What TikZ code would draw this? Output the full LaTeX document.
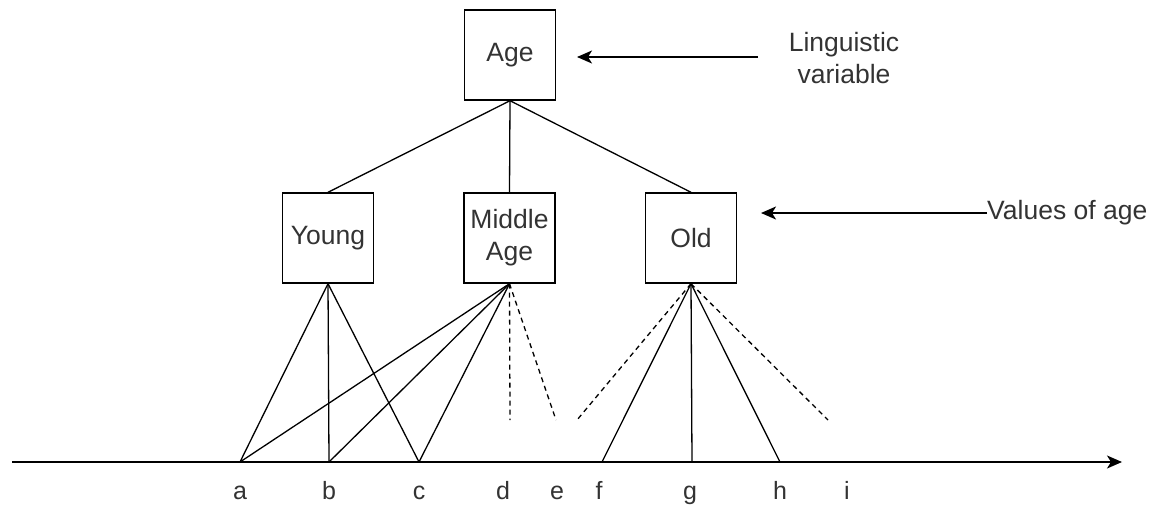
\documentclass[tikz,border=0pt]{standalone}
\usepackage{fontspec}
\setmainfont{Liberation Sans}
\usetikzlibrary{arrows.meta}
\begin{document}
\begin{tikzpicture}[x=1pt,y=-1pt,
  box/.style={draw,line width=1.4pt,minimum width=91pt,minimum height=90pt,
    inner sep=0pt,align=center,text=black!80,font=\fontsize{26.5}{32}\selectfont},
  lbl/.style={font=\fontsize{26.5}{32}\selectfont,text=black!80,align=center,inner sep=0pt},
  tick/.style={font=\fontsize{25}{28}\selectfont,text=black!80,inner sep=0pt,anchor=base},
  edge/.style={line width=1.3pt},
  dashedge/.style={line width=1.3pt,dash pattern=on 5pt off 4pt},
  ptr/.style={line width=1.5pt,-{Stealth[length=15pt,width=13pt,inset=4pt]}}
]
\useasboundingbox (0,0) rectangle (1164,504);

% boxes
\node[box] (age) at (510,55) {Age};
\node[box] (young) at (328,238) {Young};
\node[box] (middle) at (509.5,238) {Middle\\Age};
\node[box] (old) at (691,238) {Old};

% side labels with pointers
\node[lbl] (ling) at (844,58) {Linguistic\\variable};
\coordinate (lingstart) at (758,57);
\coordinate (lingend) at (577,57);
\draw[ptr] (lingstart) -- (lingend);

\node[lbl,anchor=west] (vals) at (987,213) {Values of age};
\draw[ptr] (vals.west) -- (761,213);

% tree edges
\draw[edge] (age.south) -- (young.north);
\draw[edge] (age.south) -- (middle.north);
\draw[edge] (age.south) -- (old.north);

% axis
\coordinate (axs) at (12,462);
\coordinate (axe) at (1122,462);
\draw[ptr] (axs) -- (axe);

% points on the axis
\coordinate (pa) at (240,462);
\coordinate (pb) at (329,462);
\coordinate (pc) at (419,462);
\coordinate (pf) at (602,462);
\coordinate (pg) at (692,462);
\coordinate (ph) at (780,462);

% point labels
\node[tick] (la) at (240,499) {a};
\node[tick] (lb) at (329,499) {b};
\node[tick] (lc) at (419,499) {c};
\node[tick] (ld) at (503,499) {d};
\node[tick] (le) at (557,499) {e};
\node[tick] (lf) at (599,499) {f};
\node[tick] (lg) at (690,499) {g};
\node[tick] (lh) at (780,499) {h};
\node[tick] (li) at (847,499) {i};

% membership lines
\draw[edge] (young.south) -- (pa);
\draw[edge] (young.south) -- (pb);
\draw[edge] (young.south) -- (pc);
\draw[edge] (middle.south) -- (pa);
\draw[edge] (middle.south) -- (pb);
\draw[edge] (middle.south) -- (pc);
\draw[edge] (old.south) -- (pf);
\draw[edge] (old.south) -- (pg);
\draw[edge] (old.south) -- (ph);

% open-ended dashed lines
\coordinate (dd) at (510,420);
\coordinate (de) at (556,420);
\coordinate (df) at (577,420);
\coordinate (di) at (828,420);
\draw[dashedge] (middle.south) -- (dd);
\draw[dashedge] (middle.south) -- (de);
\draw[dashedge] (old.south) -- (df);
\draw[dashedge] (old.south) -- (di);
\end{tikzpicture}
\end{document}
